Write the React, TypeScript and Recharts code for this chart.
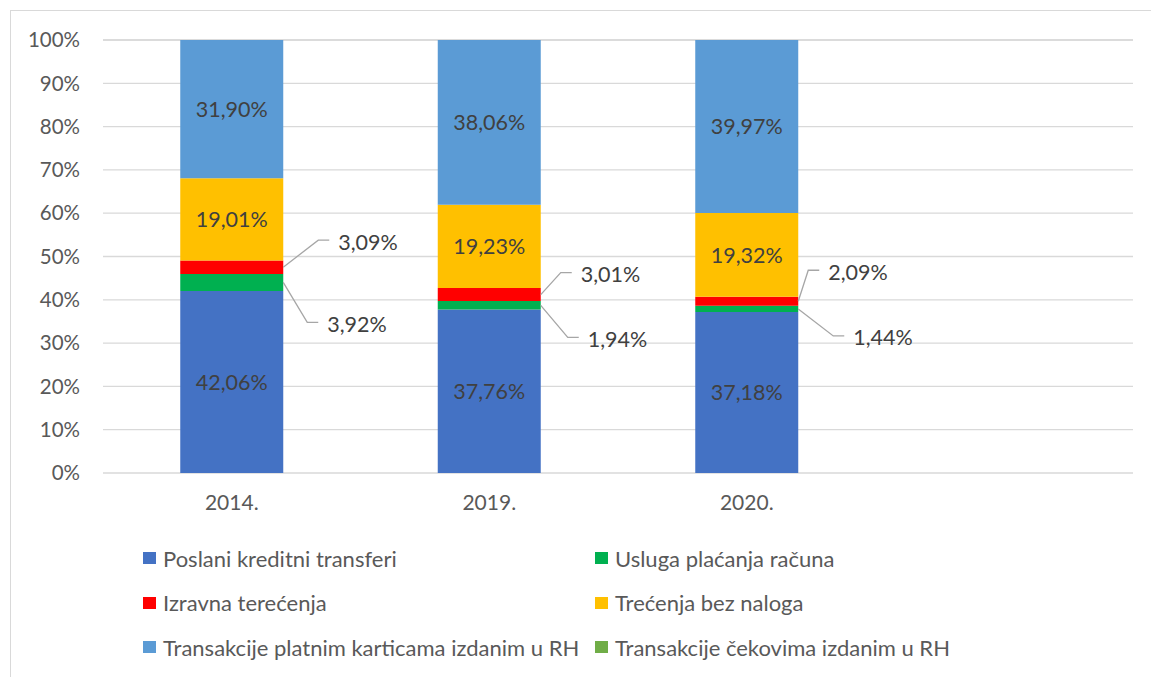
import React from "react";
import { BarChart, Bar, XAxis, YAxis, CartesianGrid, LabelList } from "recharts";

// values (share in %)
const years = ["2014.", "2019.", "2020.", ""];
const poslani = [42.06, 37.76, 37.18, null];
const usluga = [3.92, 1.94, 1.44, null];
const izravna = [3.09, 3.01, 2.09, null];
const trecenja = [19.01, 19.23, 19.32, null];
const kartice = [31.9, 38.06, 39.97, null];
const cekovi = [0.02, 0, 0, null];
const yTicks = [0, 10, 20, 30, 40, 50, 60, 70, 80, 90, 100];

const series = [
  { key: "poslani", name: "Poslani kreditni transferi", color: "#4472C4" },
  { key: "usluga", name: "Usluga plaćanja računa", color: "#00B050" },
  { key: "izravna", name: "Izravna terećenja", color: "#FF0000" },
  { key: "trecenja", name: "Trećenja bez naloga", color: "#FFC000" },
  { key: "kartice", name: "Transakcije platnim karticama izdanim u RH", color: "#5B9BD5" },
  { key: "cekovi", name: "Transakcije čekovima izdanim u RH", color: "#70AD47" },
];

const data = years.map((y, i) => ({
  name: y,
  poslani: poslani[i],
  usluga: usluga[i],
  izravna: izravna[i],
  trecenja: trecenja[i],
  kartice: kartice[i],
  cekovi: cekovi[i],
}));

// leader line elbows for the small callout labels (per year)
const redOffsets = [[35, -27], [20, -22], [10, -31]];
const greenOffsets = [[24, 40], [27, 32], [35, 27]];

const FONT = "Lato, 'Open Sans', sans-serif";
const LABEL_SIZE = 21.5;
const TICK_SIZE = 21;
const fmt = (v: any) => (v == null ? "" : Number(v).toFixed(2).replace(".", ",") + "%");

const makeCallout = (offsets: number[][]) => (props: any) => {
  const { x, y, width, height, value, index } = props;
  if (value == null || !offsets[index]) return null;
  const sx = Number(x) + Number(width);
  const sy = Number(y) + Number(height) / 2;
  const [dx, dy] = offsets[index];
  const ex = sx + dx;
  const ey = sy + dy;
  return (
    <g>
      <polyline
        points={`${sx},${sy} ${ex},${ey} ${ex + 11},${ey}`}
        fill='none'
        stroke='#a6a6a6'
        strokeWidth={1.3}
      />
      <text x={ex + 20} y={ey + 2} dy='0.35em' fill='#404040' fontSize={LABEL_SIZE} fontFamily={FONT}>
        {fmt(value)}
      </text>
    </g>
  );
};

const legendRows = [
  [series[0], series[1]],
  [series[2], series[3]],
  [series[4], series[5]],
];

const App = () => {
  return (
    <div
      style={{
        position: "absolute",
        left: 0,
        top: 0,
        width: 1151,
        height: 677,
        overflow: "hidden",
        background: "#fff",
        fontFamily: FONT,
      }}>
      {/* chart frame, cut off on the right and bottom */}
      <div
        style={{
          position: "absolute",
          left: 10,
          top: 10,
          width: 1200,
          height: 700,
          borderLeft: "1.5px solid #d9d9d9",
          borderTop: "1.5px solid #d9d9d9",
        }}
      />
      <div style={{ position: "absolute", left: 0, top: 0 }}>
        <BarChart
          width={1151}
          height={677}
          data={data}
          barCategoryGap='30%'
          margin={{ top: 40, right: 18, left: 0, bottom: 174 }}>
          <CartesianGrid vertical={false} stroke='#d9d9d9' strokeWidth={1.3} />
          <XAxis
            dataKey='name'
            axisLine={false}
            tickLine={false}
            tickSize={0}
            tickMargin={22}
            height={30}
            tick={{ fill: "#595959", fontSize: TICK_SIZE, fontFamily: FONT }}
          />
          <YAxis
            domain={[0, 100]}
            ticks={yTicks}
            width={103}
            axisLine={false}
            tickLine={false}
            tickSize={0}
            tickMargin={23}
            tickFormatter={(v) => `${v}%`}
            tick={{ fill: "#595959", fontSize: 20.5, fontFamily: FONT }}
          />
          <Bar dataKey='poslani' stackId='a' fill={series[0].color} isAnimationActive={false}>
            <LabelList dataKey='poslani' position='center' formatter={fmt} fill='#404040' fontSize={LABEL_SIZE} fontFamily={FONT} />
          </Bar>
          <Bar dataKey='usluga' stackId='a' fill={series[1].color} isAnimationActive={false}>
            <LabelList dataKey='usluga' content={makeCallout(greenOffsets)} />
          </Bar>
          <Bar dataKey='izravna' stackId='a' fill={series[2].color} isAnimationActive={false}>
            <LabelList dataKey='izravna' content={makeCallout(redOffsets)} />
          </Bar>
          <Bar dataKey='trecenja' stackId='a' fill={series[3].color} isAnimationActive={false}>
            <LabelList dataKey='trecenja' position='center' formatter={fmt} fill='#404040' fontSize={LABEL_SIZE} fontFamily={FONT} />
          </Bar>
          <Bar dataKey='kartice' stackId='a' fill={series[4].color} isAnimationActive={false}>
            <LabelList dataKey='kartice' position='center' formatter={fmt} fill='#404040' fontSize={LABEL_SIZE} fontFamily={FONT} />
          </Bar>
          <Bar dataKey='cekovi' stackId='a' fill={series[5].color} isAnimationActive={false} />
        </BarChart>
      </div>

      {/* Legend */}
      {legendRows.map((row, r) =>
        row.map((s, c) => (
          <div
            key={s.key}
            style={{
              position: "absolute",
              left: c === 0 ? 143 : 595,
              top: 558 + r * 44.5 - 14,
              height: 28,
              display: "flex",
              alignItems: "center",
              whiteSpace: "nowrap",
              color: "#595959",
              fontSize: 22,
            }}>
            <span style={{ width: 13, height: 12, background: s.color, marginRight: 7, display: "inline-block" }} />
            {s.name}
          </div>
        ))
      )}
    </div>
  );
};

export default App;
